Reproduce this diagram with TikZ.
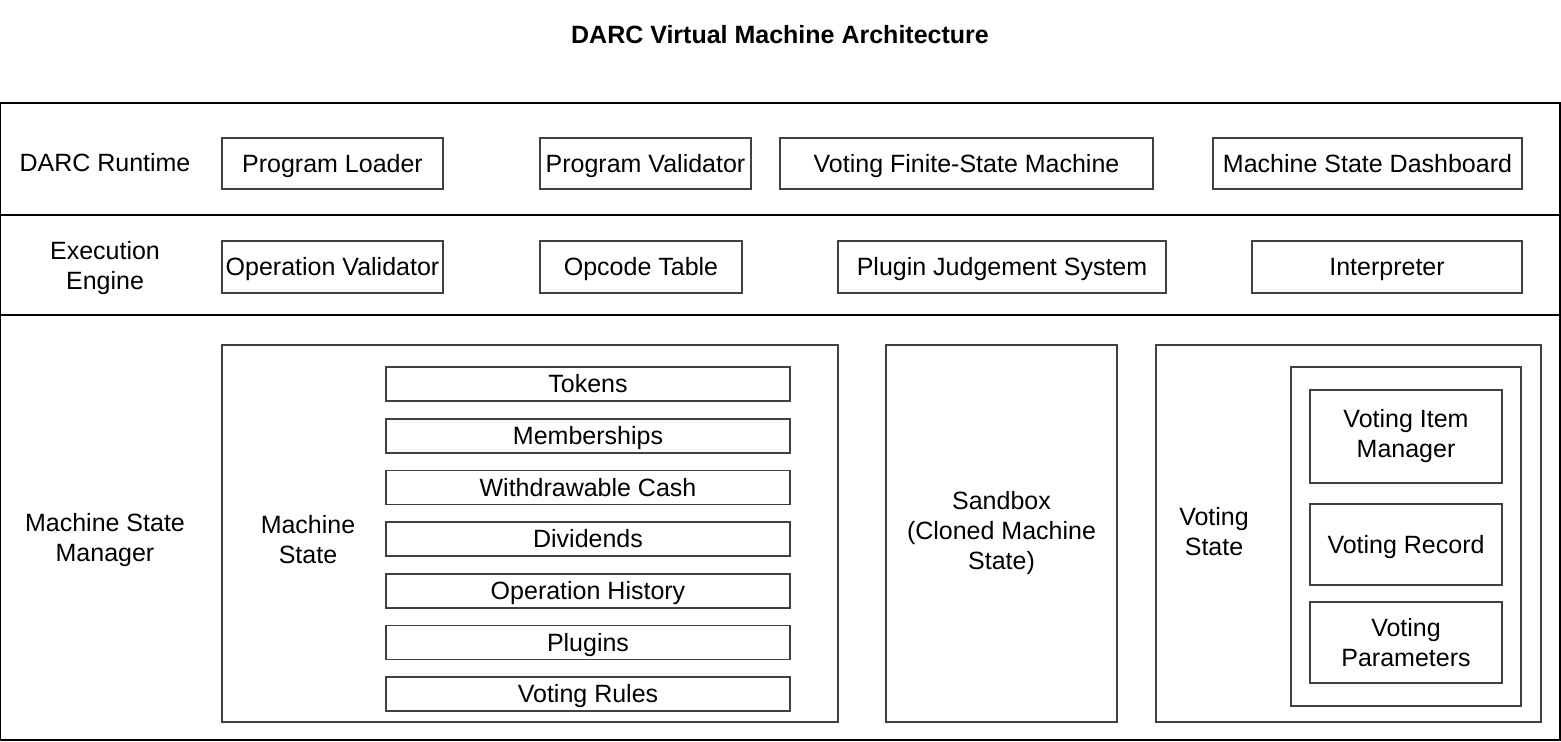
\documentclass[tikz,border=0pt]{standalone}
\usepackage{fontspec}
\setmainfont{Liberation Sans}
\usetikzlibrary{positioning, fit}

\begin{document}
\begin{tikzpicture}[
  x=0.5pt, y=-0.5pt,
  every node/.style={font=\fontsize{12.5}{15}\selectfont},
  layer/.style={draw, line width=0.8pt, inner sep=0pt},
  blk/.style={draw, black!75, text=black, line width=0.8pt, inner sep=0pt, align=center},
  oneline/.style={text height=11.3pt, text depth=2.65pt},
  lbl/.style={align=center}
]
  \useasboundingbox (0,0) rectangle (1561,741);

  % Title
  \node[font=\fontsize{12.5}{15}\selectfont\bfseries] (title) at (780,35)
    {DARC Virtual Machine Architecture};

  % Layers
  \node[layer, fit={(0.5,103)(1560,215)}] (runtime) {};
  \node[layer, fit={(0.5,215)(1560,315)}] (engine) {};
  \node[layer, fit={(0.5,315)(1560,740)}] (manager) {};

  % DARC runtime
  \node[lbl, oneline] (runtimelbl) at (105,163) {DARC Runtime};
  \node[blk, oneline, minimum width=110.5pt, minimum height=25.5pt] (loader) at (332.5,163.5) {Program Loader};
  \node[blk, oneline, minimum width=105.5pt, minimum height=25.5pt] (pvalid) at (645.5,163.5) {Program Validator};
  \node[blk, oneline, minimum width=186.5pt, minimum height=25.5pt] (fsm) at (966.5,163.5) {Voting Finite-State Machine};
  \node[blk, oneline, minimum width=154.5pt, minimum height=25.5pt] (dash) at (1367.5,163.5) {Machine State Dashboard};

  % Execution engine
  \node[lbl] (enginelbl) at (105,268) {Execution\\Engine};
  \node[blk, oneline, minimum width=110.5pt, minimum height=26pt] (ovalid) at (332.5,267) {Operation Validator};
  \node[blk, oneline, minimum width=101pt, minimum height=26pt] (opcode) at (641,267) {Opcode Table};
  \node[blk, oneline, minimum width=164pt, minimum height=26pt] (judge) at (1002,267) {Plugin Judgement System};
  \node[blk, oneline, minimum width=135pt, minimum height=26pt] (interp) at (1387,267) {Interpreter};

  % Machine state manager
  \node[lbl] (managerlbl) at (105,540) {Machine State\\Manager};

  \node[blk, fit={(222,345)(838,722)}] (mstate) {};
  \node[lbl] (mstatelbl) at (308,540) {Machine\\State};
  \foreach \name/\txt [count=\i from 0] in {tokens/Tokens, members/Memberships,
      cash/Withdrawable Cash, divid/Dividends, ophist/Operation History,
      plugins/Plugins, rules/Voting Rules}
    \node[blk, oneline, minimum width=202pt, minimum height=17pt]
      (\name) at (588,384+51.7*\i) {\txt};

  \node[blk, minimum width=115.5pt, minimum height=188.5pt] (sandbox) at (1001.5,533.5)
    {Sandbox\\(Cloned Machine\\State)};

  \node[blk, fit={(1156,345)(1541,722)}] (vstate) {};
  \node[lbl] (vstatelbl) at (1214,532) {Voting\\State};
  \node[blk, fit={(1291,367)(1521,706)}] (vinner) {};
  \node[blk, minimum width=96pt, minimum height=46.5pt] (items) at (1406,436.5) {Voting Item\\Manager};
  \node[blk, oneline, minimum width=96pt, minimum height=40.5pt] (record) at (1406,544.5) {Voting Record};
  \node[blk, minimum width=96pt, minimum height=40.5pt] (params) at (1406,642.5) {Voting\\Parameters};
\end{tikzpicture}
\end{document}
